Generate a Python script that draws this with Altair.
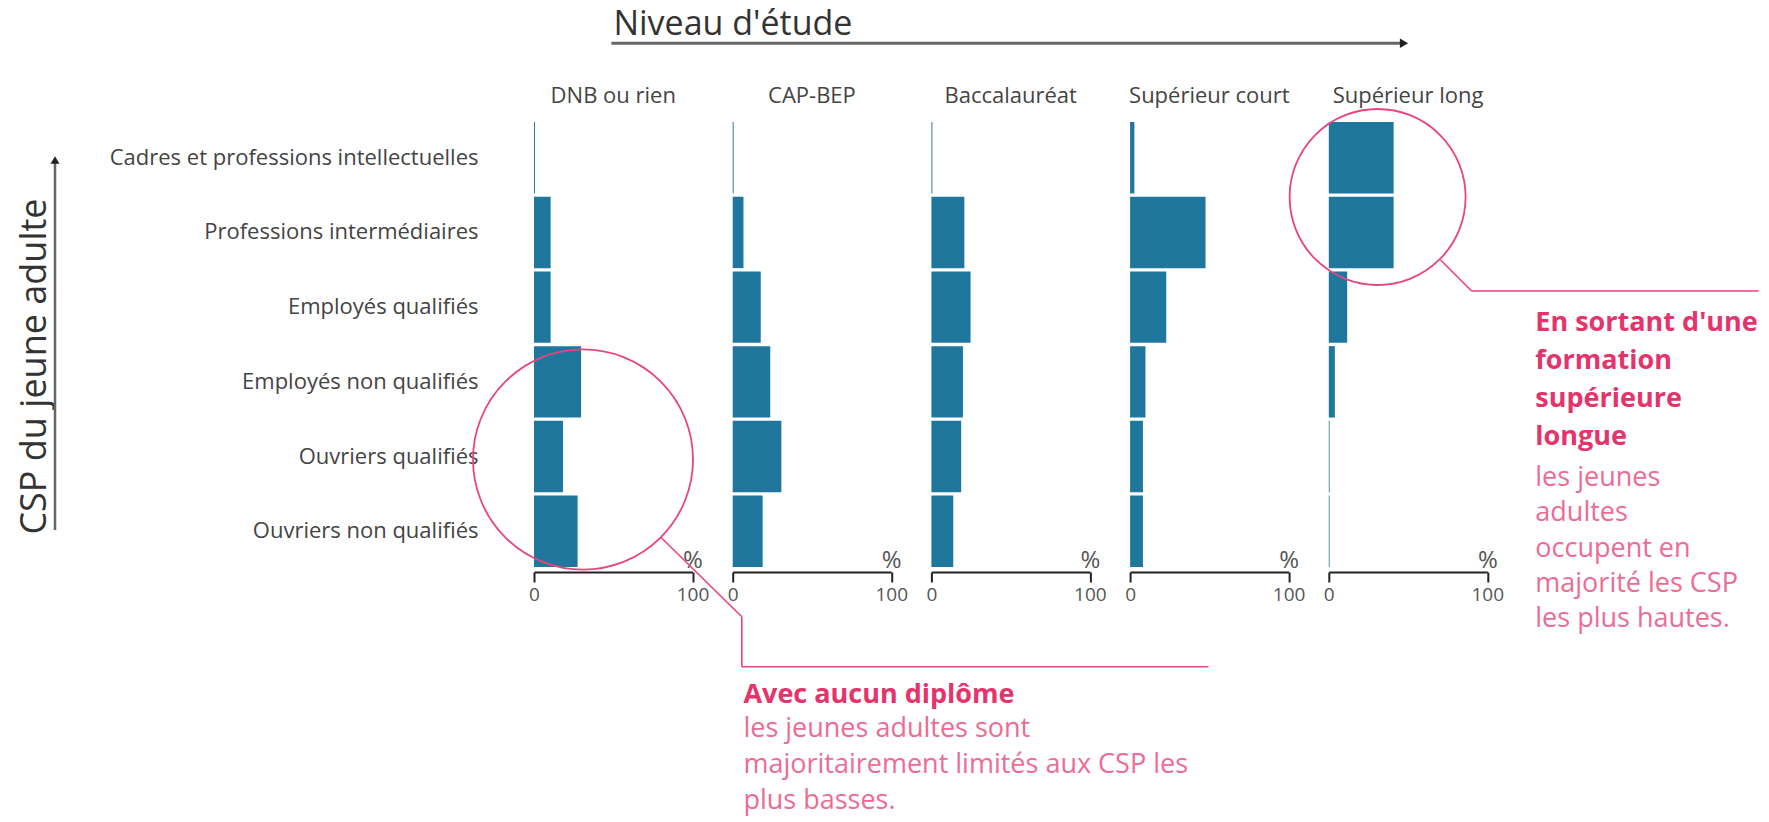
import altair as alt
import pandas as pd

# ---------------- data ----------------
niveaux = ["DNB ou rien", "CAP-BEP", "Baccalauréat", "Supérieur court", "Supérieur long"]
csp = [
    "Cadres et professions intellectuelles",
    "Professions intermédiaires",
    "Employés qualifiés",
    "Employés non qualifiés",
    "Ouvriers qualifiés",
    "Ouvriers non qualifiés",
]
pct_dnb = [0.6, 10.5, 10.5, 29.7, 18.3, 27.5]
pct_cap = [0.6, 6.8, 17.7, 23.7, 30.7, 18.9]
pct_bac = [0.6, 20.8, 24.7, 19.9, 18.8, 13.8]
pct_sup_court = [2.7, 47.6, 22.8, 9.7, 8.1, 8.1]
pct_sup_long = [40.9, 40.9, 11.6, 3.8, 0.5, 0.5]
series = [pct_dnb, pct_cap, pct_bac, pct_sup_court, pct_sup_long]
x_ticks = [0, 100]

titre_x = "Niveau d'étude"
titre_y = "CSP du jeune adulte"
note1_titre = "Avec aucun diplôme"
note1_texte = ["les jeunes adultes sont", "majoritairement limités aux CSP les", "plus basses."]
note2_titre = ["En sortant d'une", "formation", "supérieure", "longue"]
note2_texte = ["les jeunes", "adultes", "occupent en", "majorité les CSP", "les plus hautes."]

# ---------------- style ----------------
BLUE = "#1f779e"
PINK = "#e8457a"
PINK_BOLD = "#e5336c"
PINK_TEXT = "#ee6b93"
FONT = "Open Sans"
W = 158.5
H = 445
one = pd.DataFrame({"k": [0]})


def rule(x, y, x2=None, y2=None, color=PINK, width=1.6):
    enc = dict(x=alt.value(x), y=alt.value(y))
    if x2 is not None:
        enc["x2"] = alt.value(x2)
    if y2 is not None:
        enc["y2"] = alt.value(y2)
    return alt.Chart(one).mark_rule(color=color, strokeWidth=width).encode(**enc)


def panel(i):
    df = pd.DataFrame({"csp": csp, "pct": series[i]})
    if i == 0:
        yaxis = alt.Axis(
            title=titre_y, labelFontSize=22, labelColor="#444", labelPadding=56,
            ticks=False, domain=False, labelLimit=600,
            titleAngle=270, titleX=-489, titleY=244, titleAlign="center",
            titleBaseline="alphabetic", titleFontSize=36, titleFontWeight="normal",
            titleColor="#333",
        )
    else:
        yaxis = None
    xaxis = alt.Axis(
        values=x_ticks, title="%", grid=False, domainColor="#222", domainWidth=2,
        tickColor="#222", tickWidth=2, tickSize=10, labelFontSize=19,
        labelColor="#555", labelPadding=3, labelFlush=False,
        titleX=W, titleY=-5, titleAngle=0, titleAlign="center",
        titleBaseline="alphabetic", titleFontSize=24, titleFontWeight="normal",
        titleColor="#555", offset=5,
    )
    bars = alt.Chart(df).mark_bar(color=BLUE).encode(
        x=alt.X("pct:Q", scale=alt.Scale(domain=[0, 100], nice=False), axis=xaxis),
        y=alt.Y("csp:N", sort=csp,
                scale=alt.Scale(paddingInner=0.044, paddingOuter=0.0), axis=yaxis),
    )
    header = alt.Chart(pd.DataFrame({"niveau": [niveaux[i]]})).mark_text(
        fontSize=22, color="#444", align="center", baseline="alphabetic"
    ).encode(text="niveau:N", x=alt.value(W / 2), y=alt.value(-19))
    layers = [bars, header]

    if i == 0:
        layers += [
            alt.Chart(one).mark_text(text=titre_x, fontSize=34, color="#333",
                                     align="left", baseline="alphabetic")
            .encode(x=alt.value(79.4), y=alt.value(-86.8)),
            rule(77.4, -78.7, x2=866, color="#666", width=3),
            alt.Chart(one).mark_point(shape="triangle-right", filled=True, color="#222",
                                      size=90, opacity=1)
            .encode(x=alt.value(870), y=alt.value(-78.7)),
            rule(-479, 40, y2=408, color="#666", width=2.5),
            alt.Chart(one).mark_point(shape="triangle-up", filled=True, color="#222",
                                      size=80, opacity=1)
            .encode(x=alt.value(-479), y=alt.value(38)),
            alt.Chart(one).mark_point(shape="circle", filled=False, color=PINK,
                                      strokeWidth=1.8, size=48400, opacity=1)
            .encode(x=alt.value(49), y=alt.value(337.5)),
            rule(126.8, 415.3, x2=207.8, y2=494.7),
            rule(207.8, 494.7, y2=544.7),
            rule(207.8, 544.7, x2=674.4),
            alt.Chart(one).mark_text(text=note1_titre, fontSize=27, fontWeight="bold",
                                     color=PINK_BOLD, align="left", baseline="alphabetic")
            .encode(x=alt.value(209.4), y=alt.value(581)),
            alt.Chart(one).mark_text(text=note1_texte, fontSize=27, color=PINK_TEXT,
                                     align="left", baseline="alphabetic", lineHeight=36)
            .encode(x=alt.value(209.4), y=alt.value(615)),
        ]
    if i == 4:
        layers += [
            alt.Chart(one).mark_point(shape="circle", filled=False, color=PINK,
                                      strokeWidth=1.8, size=30976, opacity=1)
            .encode(x=alt.value(48.8), y=alt.value(75)),
            rule(111.8, 138, x2=142.8, y2=169),
            rule(142.8, 169, x2=429.8),
            alt.Chart(one).mark_text(text=note2_titre, fontSize=27, fontWeight="bold",
                                     color=PINK_BOLD, align="left", baseline="alphabetic",
                                     lineHeight=38.3)
            .encode(x=alt.value(206.5), y=alt.value(208.5)),
            alt.Chart(one).mark_text(text=note2_texte, fontSize=27, color=PINK_TEXT,
                                     align="left", baseline="alphabetic", lineHeight=35.3)
            .encode(x=alt.value(206.5), y=alt.value(364)),
        ]
    return alt.layer(*layers).properties(width=W, height=H)


chart = alt.hconcat(*[panel(i) for i in range(5)], spacing=39.7, bounds="flush").properties(
    padding={"left": 8, "top": 0, "right": 0, "bottom": 3}
).configure(font=FONT).configure_view(stroke=None)

chart.save("out.html", embed_options={"renderer": "svg", "actions": False})
